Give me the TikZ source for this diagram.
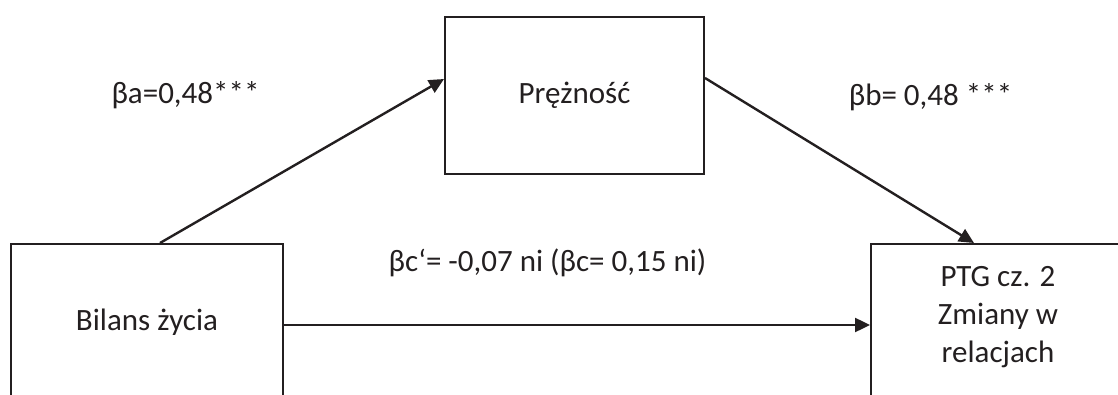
\documentclass[tikz,border=0pt]{standalone}
\usepackage{fontspec}
\setmainfont{Carlito}
\usetikzlibrary{arrows.meta}
\definecolor{ink}{RGB}{35,31,32}
\begin{document}
\begin{tikzpicture}[x=1pt,y=1pt,
  box/.style={draw=ink, line width=2pt, rectangle, inner sep=0pt, text=ink, font=\fontsize{31}{38}\selectfont},
  lbl/.style={text=ink, inner sep=0pt, font=\fontsize{31}{38}\selectfont},
  conn/.style={draw=ink, line width=2.4pt, -{Triangle[length=15pt,width=14pt]}}]
\path[use as bounding box, clip] (0,0) rectangle (1118,394);
\node[box, minimum width=272pt, minimum height=162pt] (L) at (147,69) {};
\node[lbl] (Lt) at (147,72) {Bilans życia};
\node[box, minimum width=259pt, minimum height=157pt] (P) at (574.5,298.5) {};
\node[lbl] (Pt) at (574.5,298.5) {Prężność};
\node[box, minimum width=254pt, minimum height=162pt] (R) at (998,69) {};
\node[lbl, align=center] (Rt) at (998,77) {PTG cz. 2\\Zmiany w\\relacjach};
\draw[conn] ([xshift=13pt]L.north) -- ([yshift=16.5pt]P.west);
\draw[conn] ([yshift=17.5pt]P.east) -- ([xshift=-24pt]R.north);
\draw[conn] (L.east) -- (R.west);
\node[lbl] (ba) at (185.5,299) {βa=0,48***};
\node[lbl] (bb) at (930.5,297) {βb= 0,48 ***};
\node[lbl] (bc) at (547.5,131) {βc‘= -0,07 ni (βc= 0,15 ni)};
\end{tikzpicture}
\end{document}
